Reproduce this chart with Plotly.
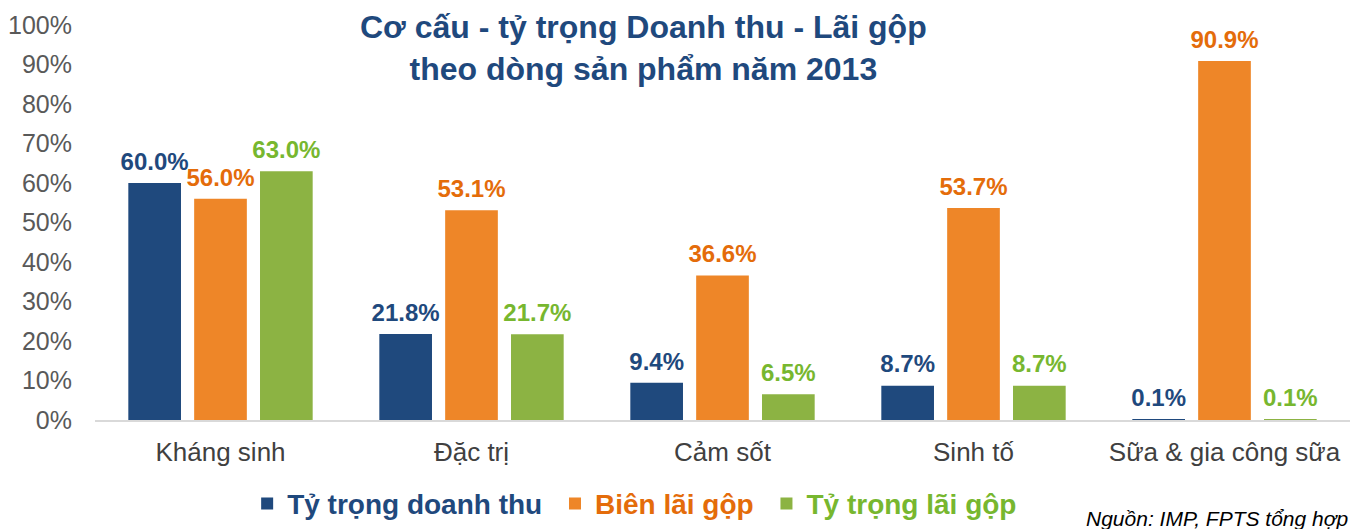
import plotly.graph_objects as go

categories = ["Kháng sinh", "Đặc trị", "Cảm sốt", "Sinh tố", "Sữa & gia công sữa"]
ty_trong_doanh_thu = [0.600, 0.218, 0.094, 0.087, 0.001]
bien_lai_gop = [0.560, 0.531, 0.366, 0.537, 0.909]
ty_trong_lai_gop = [0.630, 0.217, 0.065, 0.087, 0.001]
series_names = ["Tỷ trọng doanh thu", "Biên lãi gộp", "Tỷ trọng lãi gộp"]
y_ticks = [0, 0.1, 0.2, 0.3, 0.4, 0.5, 0.6, 0.7, 0.8, 0.9, 1.0]

bar_colors = ["#1F497D", "#EE8628", "#8CB343"]
text_colors = ["#1F497D", "#E46C0A", "#77B72F"]
series_values = [ty_trong_doanh_thu, bien_lai_gop, ty_trong_lai_gop]
pads = ["\u00a0", "\u00a0", ""]
groups = ["g1", "g2", "g3"]
BASE = "Liberation Sans, Arial, sans-serif"
GAP = 0.213

fig = go.Figure()
for name, vals, bc, tc, pad, g in zip(series_names, series_values, bar_colors, text_colors, pads, groups):
    fig.add_trace(go.Bar(
        x=categories, y=vals, offsetgroup=g, alignmentgroup="a",
        name=f"<span style='color:{tc}'>{name}</span>{pad}",
        marker=dict(color=bc, line=dict(width=0)),
        hoverinfo="skip",
    ))
for vals, tc, g in zip(series_values, text_colors, groups):
    fig.add_trace(go.Scatter(
        x=categories, y=vals, offsetgroup=g, alignmentgroup="a",
        mode="markers+text", showlegend=False,
        marker=dict(size=10, opacity=0, color=tc),
        texttemplate="%{y:.1%}", textposition="top center",
        textfont=dict(family=BASE, size=24, color=tc, weight="bold"),
        cliponaxis=False, hoverinfo="skip",
    ))

fig.update_layout(
    width=1357, height=521,
    margin=dict(l=87, r=15, t=17, b=109, autoexpand=False),
    paper_bgcolor="white", plot_bgcolor="white",
    barmode="group", bargap=GAP, bargroupgap=0.2,
    scattermode="group", scattergap=GAP,
    showlegend=True,
    legend=dict(
        orientation="h", x=0.430, xanchor="center", y=-0.212, yanchor="middle",
        font=dict(family=BASE, size=28, weight="bold"),
        traceorder="normal",
    ),
    font=dict(family=BASE),
)
fig.update_yaxes(
    range=[0, 1], tickvals=y_ticks, tickformat=".0%", automargin=False,
    showgrid=False, zeroline=False, showline=False,
    tickfont=dict(size=25, color="#595959"), ticklabelstandoff=22,
)
fig.update_xaxes(
    showgrid=False, showline=True, linecolor="#D9D9D9", linewidth=1.5, automargin=False,
    ticks="", tickfont=dict(size=26, color="#404040"), ticklabelstandoff=8,
)
fig.add_annotation(
    text="<b>Cơ cấu - tỷ trọng Doanh thu - Lãi gộp<br>theo dòng sản phẩm năm 2013</b>",
    xref="paper", yref="paper", x=0.4367, xanchor="center", y=1.045, yanchor="top",
    showarrow=False, font=dict(family=BASE, size=32, color="#1F497D"),
)
fig.add_annotation(
    text="<i>Nguồn: IMP, FPTS tổng hợp</i>", xref="paper", yref="paper",
    x=1.0, xanchor="right", y=-0.215, yanchor="top", showarrow=False,
    font=dict(family=BASE, size=21, color="#000000"),
)
fig.write_html("out.html")
